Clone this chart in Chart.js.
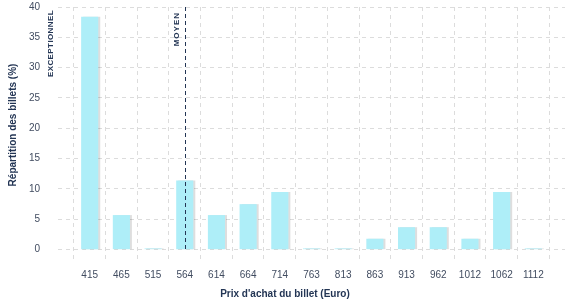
<!DOCTYPE html>
<html>
<head>
<meta charset="utf-8">
<script src="https://cdn.jsdelivr.net/npm/chart.js@4/dist/chart.umd.min.js"></script>
<style>
  html, body { margin: 0; padding: 0; background: #fff; }
  #wrap { width: 577px; height: 300px; }
</style>
</head>
<body>
<div id="wrap"><canvas id="chart" width="577" height="300"></canvas></div>
<script>
// ticket price classes (Euro) and share of tickets (%)
const prices = ['415','465','515','564','614','664','714','763','813','863','913','962','1012','1062','1112'];
const shares = [38.4, 5.7, 0.2, 11.4, 5.7, 7.5, 9.5, 0.2, 0.2, 1.8, 3.7, 3.7, 1.8, 9.5, 0.2];
const yTicks = [0, 5, 10, 15, 20, 25, 30, 35, 40];
const meanPrice = '564';

const navy = '#233554';
const gridCol = '#dcdcdc';
const font = '"Liberation Sans", Arial, sans-serif';

// empty slots on each side give the margin seen around the bars
const labels = [''].concat(prices, ['']);
const values = [null].concat(shares, [null]);

const barShadow = {
  id: 'barShadow',
  beforeDatasetsDraw(chart) {
    const c = chart.ctx;
    c.save();
    c.shadowColor = 'rgba(0,0,0,0.13)';
    c.shadowOffsetX = 2;
    c.shadowOffsetY = 0;
    c.shadowBlur = 0;
  },
  afterDatasetsDraw(chart) {
    chart.ctx.restore();
  }
};

function vText(c, txt, x, y, f, spacing, align) {
  c.save();
  c.fillStyle = navy;
  c.textAlign = align;
  c.textBaseline = 'middle';
  c.letterSpacing = spacing;
  c.font = f;
  c.translate(x, y);
  c.rotate(-Math.PI / 2);
  c.fillText(txt, 0, 0);
  c.restore();
}

const markers = {
  id: 'markers',
  afterDatasetsDraw(chart) {
    const c = chart.ctx, x = chart.scales.x, y = chart.scales.y;
    const area = chart.chartArea;
    const mx = Math.round(x.getPixelForValue(labels.indexOf(meanPrice))) + 0.5;
    c.save();
    c.strokeStyle = navy;
    c.lineWidth = 1;
    c.setLineDash([4, 3]);
    c.beginPath();
    c.moveTo(mx, area.top);
    c.lineTo(mx, y.getPixelForValue(0));
    c.stroke();
    c.restore();

    vText(c, 'MOYEN', mx - 9, area.top + 5, 'bold 8px ' + font, '1px', 'right');
    vText(c, 'EXCEPTIONNEL', area.left - 7, area.top + 3, 'bold 8px ' + font, '0.4px', 'right');
  }
};

// axis titles, centred on the canvas like the original
const axisTitles = {
  id: 'axisTitles',
  afterDraw(chart) {
    const c = chart.ctx;
    c.save();
    c.fillStyle = navy;
    c.font = 'bold 10px ' + font;
    c.textAlign = 'center';
    c.textBaseline = 'middle';
    c.fillText("Prix d'achat du billet (Euro)", 285, 294);
    c.restore();
    vText(c, 'Répartition des billets (%)', 13.5, 125, 'bold 10px ' + font, '0px', 'center');
  }
};

new Chart(document.getElementById('chart').getContext('2d'), {
  type: 'bar',
  data: {
    labels: labels,
    datasets: [{
      data: values,
      backgroundColor: '#aeeef8',
      borderWidth: 0,
      barPercentage: 0.9,
      categoryPercentage: 0.6
    }]
  },
  options: {
    responsive: false,
    animation: false,
    layout: { padding: { top: 7, right: 12, left: 0, bottom: 0 } },
    plugins: { legend: { display: false }, tooltip: { enabled: false } },
    scales: {
      x: {
        offset: false,
        border: { display: false, dash: [4, 4] },
        grid: { color: gridCol, drawTicks: false },
        ticks: {
          color: '#414c60', padding: 6, maxRotation: 0, autoSkip: false,
          font: { family: font, size: 10 }
        },
        afterFit(s) { s.height = 37; }
      },
      y: {
        min: -2.2,
        max: 40,
        border: { display: false, dash: [4, 4] },
        grid: { color: gridCol, drawTicks: false },
        afterBuildTicks(s) { s.ticks = yTicks.map(v => ({ value: v })); },
        ticks: {
          color: '#414c60', padding: 18,
          font: { family: font, size: 10 }
        },
        afterFit(s) { s.width = 58; s.paddingTop = 0; s.paddingBottom = 0; }
      }
    }
  },
  plugins: [barShadow, markers, axisTitles]
});
</script>
</body>
</html>
